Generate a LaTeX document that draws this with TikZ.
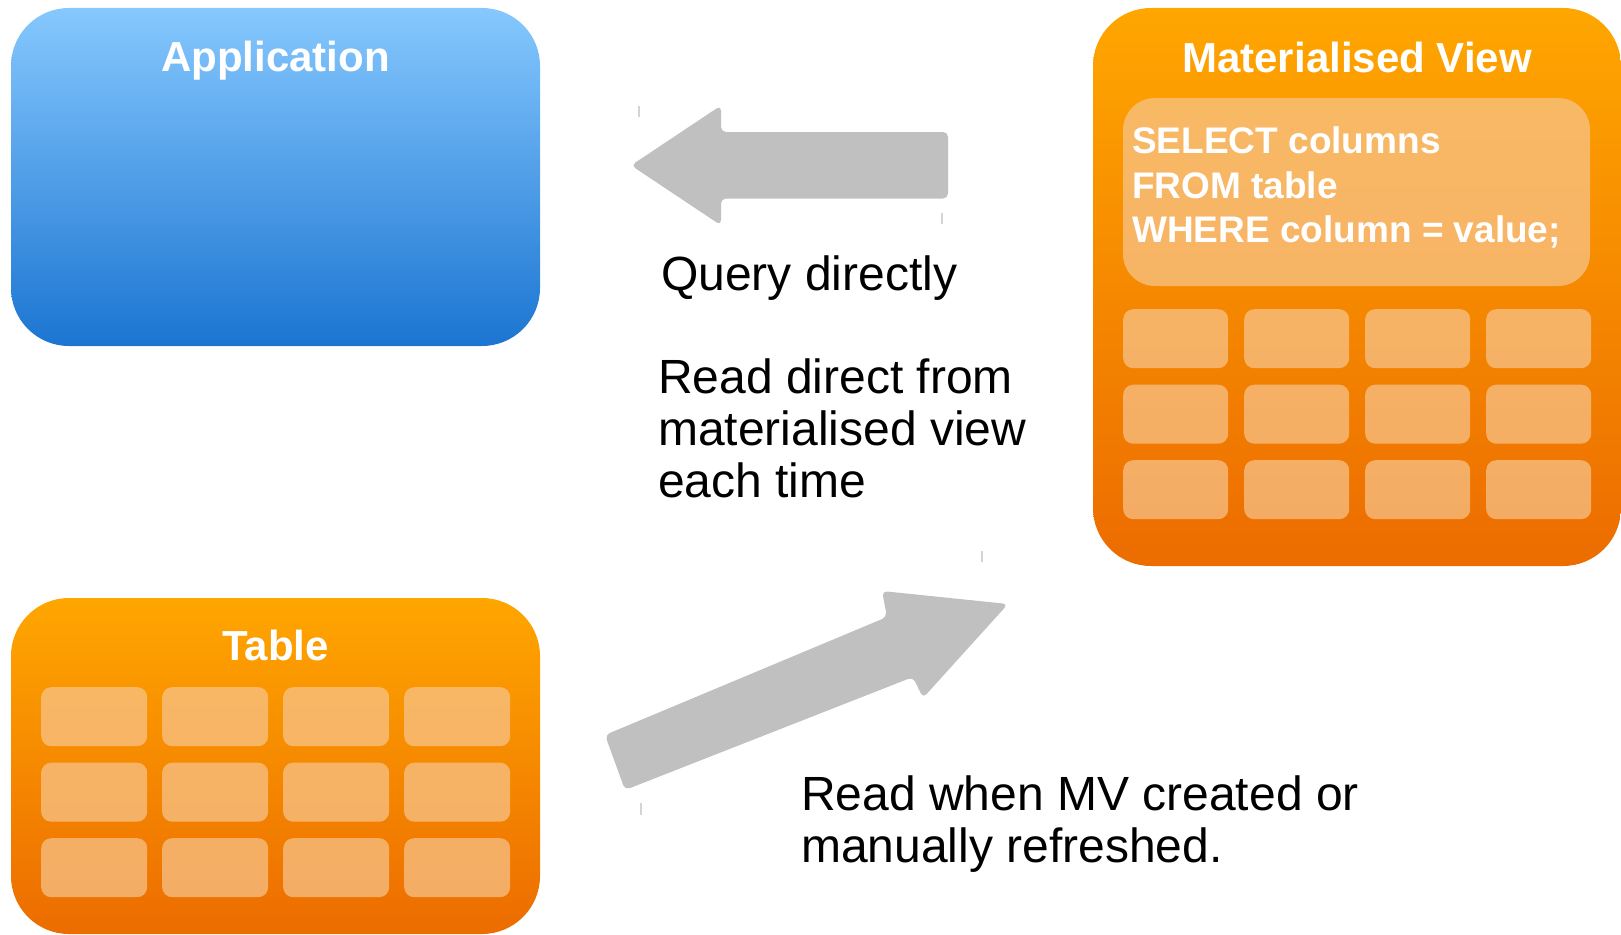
\documentclass[tikz,border=0pt]{standalone}
\usepackage{fontspec}
\setmainfont{Liberation Sans}

\definecolor{appTop}{HTML}{86C8FE}
\definecolor{appBot}{HTML}{1B75D1}
\definecolor{orTop}{HTML}{FFA600}
\definecolor{orBot}{HTML}{EC6C00}
\definecolor{cellFill}{HTML}{F7C690}
\definecolor{arrowGray}{HTML}{C0C0C0}
\definecolor{tickGray}{HTML}{D4D4D4}

\tikzset{
  panel/.style={rounded corners=58pt, inner sep=0pt, draw=none},
  bluepanel/.style={panel, top color=appTop, bottom color=appBot},
  orangepanel/.style={panel, top color=orTop, bottom color=orBot},
  cellbox/.style={fill=cellFill, fill opacity=0.7, draw=none, rounded corners=10pt,
    minimum width=106pt, minimum height=59pt, inner sep=0pt, anchor=north west},
  sqlbox/.style={fill=cellFill, fill opacity=0.7, draw=none, rounded corners=32pt,
    inner sep=0pt},
  blockarrow/.style={fill=arrowGray, rounded corners=5pt},
  tickmark/.style={draw=tickGray, line width=1.2pt},
  titletext/.style={font=\bfseries\fontsize{42}{46}\selectfont, text=white,
    inner sep=0pt, anchor=base},
  sqltext/.style={font=\bfseries\fontsize{37}{44}\selectfont, text=white,
    inner sep=0pt, anchor=base west},
  notetext/.style={font=\fontsize{48}{52}\selectfont, text=black,
    inner sep=0pt, anchor=base west}
}

\begin{document}
\begin{tikzpicture}[x=1pt, y=-1pt]
\useasboundingbox (0,0) rectangle (1621,934);

% ---- Application ----
\node[bluepanel, minimum width=529pt, minimum height=338pt] (app) at (275.5,177) {};
\node[titletext] (apptitle) at (275.5,71) {Application};

% ---- Table ----
\node[orangepanel, minimum width=529pt, minimum height=336pt] (tbl) at (275.5,766) {};
\node[titletext] (tbltitle) at (275.5,660) {Table};
\foreach \r in {0,1,2} {
  \foreach \c in {0,1,2,3} {
    \node[cellbox] (tcell-\r-\c) at ({41+121*\c},{687+75.5*\r}) {};
  }
}

% ---- Materialised View ----
\node[orangepanel, minimum width=528pt, minimum height=558pt] (mv) at (1357,287) {};
\node[titletext] (mvtitle) at (1357,73) {Materialised View};
\node[sqlbox, minimum width=467pt, minimum height=188pt] (sql) at (1356.5,192) {};
\node[sqltext] (sql1) at (1132,153) {SELECT columns};
\node[sqltext] (sql2) at (1132,198) {FROM table};
\node[sqltext] (sql3) at (1132,242.5) {WHERE column = value;};
\foreach \r in {0,1,2} {
  \foreach \c in {0,1,2,3} {
    \node[cellbox, minimum width=105pt] (mcell-\r-\c) at ({1123+121*\c},{309+75.5*\r}) {};
  }
}

% ---- block arrows ----
\fill[blockarrow] (948,132) -- (721,132) -- (721,105.5) -- (631,165.4)
  -- (721,225.4) -- (721,198.5) -- (948,198.5) -- cycle;
\fill[blockarrow] (605,735) -- (887,617) -- (882,591) -- (1008,604)
  -- (923,698) -- (913,677) -- (625,790) -- cycle;

% small guide ticks beside the arrows
\draw[tickmark] (639,106) -- (639,117);
\draw[tickmark] (942,213) -- (942,224);
\draw[tickmark] (982,551) -- (982,562);
\draw[tickmark] (641,803) -- (641,815);

% ---- labels ----
\node[notetext] (q1) at (661,290.5) {Query directly};
\node[notetext] (r1) at (658,393.5) {Read direct from};
\node[notetext] (r2) at (658,445.5) {materialised view};
\node[notetext] (r3) at (658,497.5) {each time};
\node[notetext] (w1) at (801,810) {Read when MV created or};
\node[notetext] (w2) at (801,862) {manually refreshed.};
\end{tikzpicture}
\end{document}
